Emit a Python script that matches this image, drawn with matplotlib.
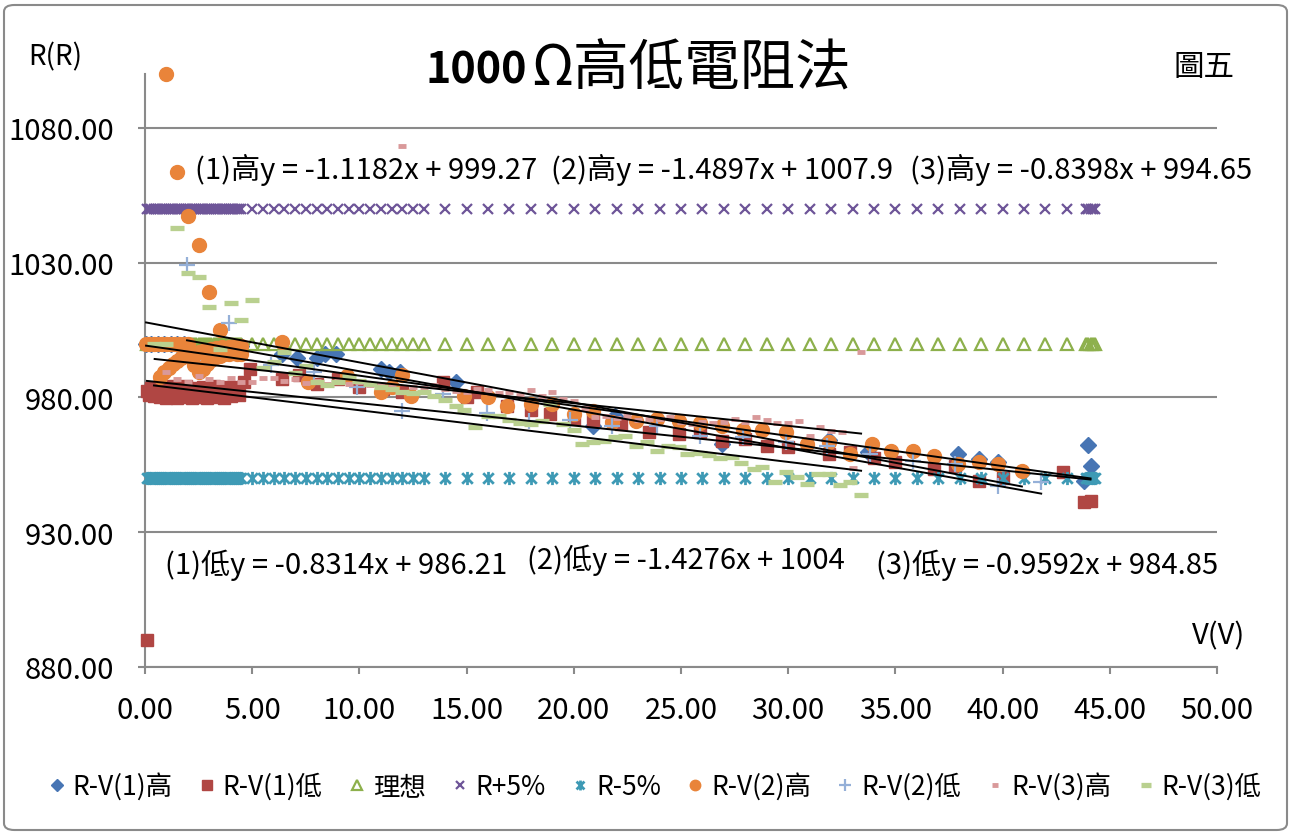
import matplotlib
matplotlib.use("Agg")
import matplotlib.pyplot as plt
from matplotlib.path import Path
from matplotlib.patches import FancyBboxPatch
from matplotlib.lines import Line2D

plt.rcParams['font.family'] = ['Noto Sans CJK TC', 'DejaVu Sans']

# voltage grid shared by the reference lines
v_ref = [0.1, 0.2, 0.3, 0.4, 0.5, 0.6, 0.7, 0.8, 0.9, 1.0, 1.1, 1.2, 1.3, 1.4, 1.5,
         1.6, 1.7, 1.8, 1.9, 2.0, 2.1, 2.2, 2.3, 2.4, 2.5, 2.6, 2.7, 2.8, 2.9, 3.0,
         3.1, 3.2, 3.3, 3.4, 3.5, 3.6, 3.7, 3.8, 3.9, 4.0, 4.1, 4.2, 4.3, 4.4, 4.5,
         5.0, 5.5, 6.0, 6.5, 7.0, 7.5, 8.0, 8.5, 9.0, 9.5, 10.0, 10.5, 11.0, 11.5,
         12.0, 12.5, 13.0, 14, 15, 16, 17, 18, 19, 20, 21, 22, 23, 24, 25, 26, 27,
         28, 29, 30, 31, 32, 33, 34, 35, 36, 37, 38, 39, 40, 41, 42, 43,
         43.9, 44.0, 44.1, 44.2, 44.3]
r_ideal = 1000.0
r_plus5 = 1050.0
r_minus5 = 950.0

# 第一次 高電阻法
v1_hi = [0.05, 0.3, 0.6, 0.9, 1.2, 1.5, 1.8, 2.1, 2.5, 2.9, 3.3, 3.7, 4.1, 4.5,
         6.4, 7.1, 8.0, 8.4, 8.9, 11.0, 11.4, 11.9, 14.5, 20.9, 21.9, 26.9, 31.9,
         33.7, 37.9, 38.9, 39.8, 43.8, 44.0, 44.1]
r1_hi = [1000.0, 1000.0, 1000.0, 1000.0, 1000.0, 1000.0, 1000.0, 995.8, 996.8, 997.6,
         998.3, 998.7, 999.0, 999.0,
         996.3, 994.8, 994.8, 996.0, 996.0, 990.4, 989.5, 989.6, 985.9, 969.3, 973.0,
         962.6, 964.4, 959.6, 959.2, 957.0, 956.0, 948.9, 962.2, 954.4]

# 第一次 低電阻法
v1_lo = [0.09, 0.1, 0.2, 0.3, 0.4, 0.5, 0.6, 0.7, 0.8, 0.9, 1.0, 1.1, 1.2, 1.3, 1.4,
         1.5, 1.6, 1.7, 1.8, 1.9, 2.0, 2.1, 2.2, 2.3, 2.4, 2.5, 2.6, 2.7, 2.8, 2.9,
         3.0, 3.1, 3.2, 3.3, 3.4, 3.5, 3.6, 3.7, 3.8, 3.9, 4.0, 4.1, 4.2, 4.3, 4.4,
         4.6, 4.9, 6.4, 7.2, 8.0, 9.0, 10.0, 11.1, 12.0, 13.9, 15.0, 15.5, 16.9,
         18.0, 18.9, 20.0, 20.9, 22.2, 23.5, 24.9, 25.9, 26.9, 28.0, 29.0, 30.0,
         31.9, 32.9, 34.0, 35.0, 36.8, 37.8, 38.9, 40.0, 42.8, 43.8, 44.1]
r1_lo = [890.0, 982.5, 981.0, 983.5, 980.5, 982.0, 984.0, 980.0, 981.5, 983.0, 979.8,
         982.8, 980.8, 984.2, 981.2, 979.9, 983.2, 980.3, 982.1, 984.4, 980.6, 981.7,
         979.8, 983.6, 980.1, 982.4, 981.0, 983.9, 980.4, 979.9, 982.7, 981.3, 984.1,
         980.2, 982.9, 980.7, 983.4, 979.8, 981.9, 984.0, 980.5, 982.3, 981.1, 983.7,
         980.9,
         985.6, 990.4, 986.7, 988.5, 985.0, 986.7, 984.0, 983.0, 982.2, 985.9, 980.0,
         982.0, 977.0, 975.5, 973.7, 972.0, 971.8, 970.0, 967.0, 966.3, 967.0, 963.7,
         964.5, 962.0, 961.5, 958.9, 959.6, 957.5, 956.0, 953.3, 954.4, 948.9, 950.0,
         952.2, 941.1, 941.5]

# 第二次 高電阻法
v2_hi = [0.05, 0.2, 0.4, 0.6, 0.8, 1.0, 1.2, 1.4, 1.6, 1.8, 2.0,
         0.7, 0.9, 1.1, 1.3, 1.5, 1.7, 1.9, 2.1, 2.3, 2.5, 2.7, 2.9, 3.1, 3.3, 3.6,
         3.9, 4.2, 4.5,
         2.3, 2.5, 2.7, 2.9, 3.1, 3.3, 3.5, 3.7, 3.9, 4.1, 4.3, 4.5,
         1.0, 1.5, 2.0, 2.5, 3.0, 3.5,
         6.4, 7.6, 9.4, 11.0, 11.5, 12.0, 12.4, 14.9, 16.0, 16.9, 18.0, 19.0, 20.0,
         20.9, 21.8, 22.9, 23.9, 24.9, 25.9, 26.9, 27.9, 28.8, 29.9, 30.9, 31.9, 32.9,
         33.9, 34.8, 35.8, 36.8, 37.9, 38.9, 39.8, 40.9]
r2_hi = [1000.0, 1000.0, 1000.0, 1000.0, 1000.0, 1000.0, 1000.0, 1000.0, 1000.0,
         1000.0, 1000.0,
         987.5, 989.5, 991.0, 992.5, 993.5, 994.5, 995.2, 995.8, 996.3, 996.8, 997.2,
         997.6, 998.0, 998.3, 998.6, 998.8, 999.0, 999.2,
         992.0, 989.5, 990.5, 992.5, 994.0, 995.0, 995.5, 996.0, 996.0, 996.5, 996.0,
         996.0,
         1100.0, 1063.5, 1047.5, 1036.5, 1019.0, 1005.0,
         1000.7, 985.6, 987.8, 982.2, 983.7, 988.5, 980.4, 980.4, 980.0, 976.7, 977.4,
         977.4, 973.7, 974.8, 971.0, 971.1, 971.9, 971.1, 970.7, 969.3, 968.1, 968.1,
         967.0, 962.6, 963.3, 958.9, 962.6, 960.0, 960.0, 958.1, 955.2, 955.9, 955.2,
         952.6]

# 第二次 低電阻法
v2_lo = [1.96, 3.9, 5.9, 7.9, 9.9, 12.0, 13.9, 15.95, 17.9, 19.8, 21.8, 23.9, 25.9,
         27.9, 29.9, 31.8, 33.8, 35.8, 37.8, 39.8, 41.8]
r2_lo = [1029.3, 1007.8, 992.2, 989.3, 983.7, 974.8, 981.1, 974.4, 971.1, 971.8, 969.3,
         969.3, 965.6, 965.2, 963.3, 961.9, 958.9, 956.3, 955.2, 947.0, 948.5]

# 第三次 高電阻法
v3_hi = [0.45, 1.0, 1.5, 2.0, 2.5, 3.0, 3.5, 4.0, 4.5, 5.0, 5.5, 6.0, 6.5, 7.0, 7.5,
         8.0, 8.5, 9.0, 9.5, 10.0, 10.5, 11.0, 11.5, 12.0, 12.5, 13.0, 13.5, 14.0,
         14.5, 15.0, 15.5, 16.0, 16.5, 17.0, 17.5, 18.0, 18.5, 19.0, 19.5, 20.0, 20.5,
         21.0, 21.5, 22.0, 22.5, 23.0, 23.5, 24.0, 24.5, 25.0, 25.5, 26.0, 26.5, 27.0,
         27.5, 28.0, 28.5, 29.0, 29.5, 30.0, 30.5, 31.0, 31.5, 32.0, 32.5, 33.0, 33.4]
r3_hi = [1000.0, 989.6, 987.0, 985.6, 988.1, 986.7, 985.6, 987.4, 985.9, 985.9, 987.4,
         987.4, 986.0, 987.0, 985.5, 986.0, 985.0, 986.5, 985.0, 985.9, 984.5, 985.0,
         984.0, 1073.3, 984.0, 983.5, 984.8, 983.0, 982.5, 982.0, 983.0, 982.6, 981.5,
         982.2, 981.0, 982.6, 980.5, 981.9, 979.5, 978.5, 976.0, 972.6, 973.0, 972.5,
         973.0, 971.5, 971.9, 972.0, 972.6, 971.0, 970.0, 971.0, 970.7, 971.0, 971.9,
         971.0, 972.6, 971.5, 970.7, 970.7, 971.1, 965.6, 968.9, 967.5, 967.0, 953.7,
         997.0]

# 第三次 低電阻法
v3_lo = [0.42, 1.0, 1.5, 2.0, 2.5, 3.0, 3.5, 4.0, 4.5, 5.0, 5.5, 6.0, 6.5, 7.0, 7.5,
         8.0, 8.5, 9.0, 9.5, 10.0, 10.5, 11.0, 11.5, 12.0, 12.5, 13.0, 13.5, 14.0,
         14.5, 14.9, 15.4, 16.0, 16.5, 17.0, 17.5, 18.0, 18.5, 18.9, 19.5, 20.0, 20.4,
         20.9, 21.4, 21.9, 22.4, 22.9, 23.4, 23.9, 24.4, 24.9, 25.3, 25.9, 26.3, 26.8,
         27.4, 27.8, 28.4, 28.8, 29.4, 29.9, 30.4, 30.9, 31.4, 31.9, 32.4, 32.9, 33.4]
r3_lo = [1000.0, 1000.0, 1043.0, 1026.3, 1024.8, 1013.7, 997.8, 1015.2, 1008.9, 1016.3,
         991.1, 993.3, 997.0, 989.0, 991.5, 985.9, 984.8, 985.6, 987.8, 986.0, 985.0,
         983.7, 983.0, 982.2, 981.5, 981.9, 980.5, 979.0, 977.0, 975.2, 968.9, 973.0,
         973.0, 971.5, 970.7, 970.0, 971.1, 977.4, 970.0, 968.0, 962.6, 963.3, 964.0,
         965.2, 965.6, 961.9, 963.3, 960.0, 962.0, 961.5, 958.9, 959.3, 958.5, 957.4,
         957.8, 955.6, 953.3, 954.1, 948.5, 952.2, 950.4, 947.8, 951.5, 951.5, 947.4,
         948.5, 943.7]

# 趨勢線 (斜率, 截距) 與標示
fits = {
    '(1)高': (-1.1182, 999.27),
    '(1)低': (-0.8314, 986.21),
    '(2)高': (-1.4897, 1007.9),
    '(2)低': (-1.4276, 1004.0),
    '(3)高': (-0.8398, 994.65),
    '(3)低': (-0.9592, 984.85),
}

star = Path([(-1, -1), (1, 1), (-1, 1), (1, -1), (0, -1.25), (0, 1.25)],
            [Path.MOVETO, Path.LINETO, Path.MOVETO, Path.LINETO, Path.MOVETO, Path.LINETO])

c_blue = '#4775B4'
c_red = '#B04643'
c_green = '#8DB04C'
c_purple = '#6E5598'
c_teal = '#3E9AB5'
c_orange = '#E9843A'
c_lblue = '#95B0D8'
c_pink = '#D9999A'
c_lgreen = '#B9D08F'

fig = plt.figure(figsize=(12.92, 8.37), dpi=100)
ax = fig.add_axes([145 / 1292, 1 - 668 / 837, (1217 - 145) / 1292, (668 - 75) / 837])

series = [
    (v1_hi, r1_hi, dict(marker='D', ms=8.5, color=c_blue), 'R-V(1)高'),
    (v1_lo, r1_lo, dict(marker='s', ms=9, color=c_red), 'R-V(1)低'),
    (v_ref, [r_ideal] * len(v_ref), dict(marker='^', ms=9, mfc='none', mec=c_green, mew=1.6), '理想'),
    (v_ref, [r_plus5] * len(v_ref), dict(marker='x', ms=7.5, mec=c_purple, mew=1.6), 'R+5%'),
    (v_ref, [r_minus5] * len(v_ref), dict(marker=star, ms=9.5, mec=c_teal, mew=2.0), 'R-5%'),
    (v2_hi, r2_hi, dict(marker='o', ms=10, color=c_orange), 'R-V(2)高'),
    (v2_lo, r2_lo, dict(marker='+', ms=11, mec=c_lblue, mew=1.6), 'R-V(2)低'),
    (v3_hi, r3_hi, dict(marker='_', ms=6, mec=c_pink, mew=3.5), 'R-V(3)高'),
    (v3_lo, r3_lo, dict(marker='_', ms=9.5, mec=c_lgreen, mew=3.8), 'R-V(3)低'),
]

handles = []
for i, (xs, ys, style, name) in enumerate(series):
    ax.plot(xs, ys, linestyle='none', zorder=3 + i * 0.1, clip_on=False, **style)
    handles.append(Line2D([], [], linestyle='none', label=name, **style))

# trendlines over each series' voltage range
ranges = {'(1)高': v1_hi, '(1)低': v1_lo, '(2)高': v2_hi,
          '(2)低': v2_lo, '(3)高': v3_hi, '(3)低': v3_lo}
for key, (m, b) in fits.items():
    xs = [min(ranges[key]), max(ranges[key])]
    ax.plot(xs, [m * x + b for x in xs], color='black', lw=1.4, zorder=5)

ax.set_xlim(0, 50)
ax.set_ylim(880, 1100)
ax.set_xticks(range(0, 51, 5))
ax.set_xticklabels([f'{t:.2f}' for t in range(0, 51, 5)])
ax.set_yticks(range(880, 1081, 50))
ax.set_yticklabels([f'{t:.2f}' for t in range(880, 1081, 50)])
ax.tick_params(axis='both', labelsize=21, colors='#8a8a8a', length=5, width=1.5,
               labelcolor='black')
ax.tick_params(axis='y', pad=17)
ax.tick_params(axis='x', pad=15)
ax.yaxis.grid(True, color='#8a8a8a', lw=1.5)
ax.set_axisbelow(True)
for s in ['top', 'right']:
    ax.spines[s].set_visible(False)
for s in ['left', 'bottom']:
    ax.spines[s].set_color('#8a8a8a')
    ax.spines[s].set_linewidth(1.5)

# equation labels
eq_pos = {
    '(1)高': (195, 170), '(2)高': (551, 170), '(3)高': (910, 170),
    '(1)低': (165, 565), '(2)低': (527, 560), '(3)低': (876, 565),
}
for key, (px, py) in eq_pos.items():
    m, b = fits[key]
    fig.text(px / 1292, 1 - py / 837, f'{key}y = {m:.4f}x + {b:g}',
             fontsize=21, ha='left', va='center')

fig.text(1192 / 1292, 1 - 636 / 837, 'V(V)', fontsize=21, ha='left', va='center')
fig.text(28 / 1292, 1 - 57 / 837, 'R(R)', fontsize=20, ha='left', va='center')
fig.text(1173 / 1292, 1 - 68 / 837, '圖五', fontsize=22, ha='left', va='center')

# title: bold digits followed by the regular-weight text
title_y = 1 - 70 / 837
t1 = fig.text(425 / 1292, title_y, '1000', fontsize=31, fontweight='bold',
              ha='left', va='center')
ax.annotate('Ω高低電阻法', xy=(1, 0.5), xycoords=t1, xytext=(3, 0),
            textcoords='offset points', fontsize=40, ha='left', va='center',
            annotation_clip=False)

fig.legend(handles=handles, loc='center', bbox_to_anchor=(0.505, 1 - 787 / 837),
           ncol=9, frameon=False, fontsize=19, handletextpad=0.1,
           columnspacing=0.8, handlelength=1.0, markerscale=0.75)

fig.patches.append(FancyBboxPatch((4 / 1292, 6 / 837), 1283 / 1292, 825 / 837,
                                  boxstyle='round,pad=0,rounding_size=0.008',
                                  transform=fig.transFigure, fill=False,
                                  edgecolor='#8a8a8a', lw=1.5))

fig.savefig('out.png', dpi=100)
